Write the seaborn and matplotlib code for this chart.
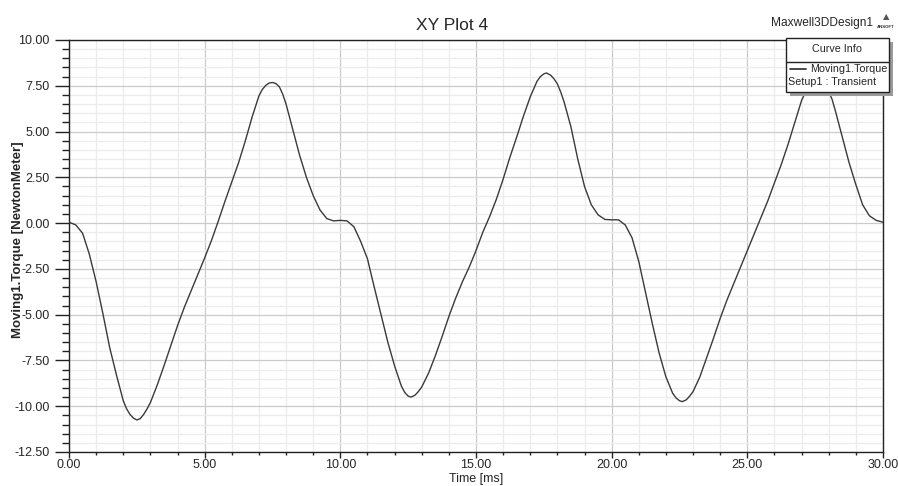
import matplotlib
matplotlib.use("Agg")
import matplotlib.pyplot as plt
from matplotlib import font_manager
from matplotlib.ticker import MultipleLocator, FormatStrFormatter
from matplotlib.patches import Rectangle
import seaborn as sns
import pandas as pd

time_ms = [0.0, 0.25, 0.5, 0.75, 1.0, 1.25, 1.5, 1.75, 2.0, 2.125, 2.25, 2.375, 2.5, 2.625, 2.75,
           2.875, 3.0, 3.25, 3.5, 3.75,
           4.0, 4.25, 4.5, 4.75, 5.0, 5.25, 5.5, 5.75, 6.0, 6.25, 6.5, 6.75, 7.0, 7.125, 7.25,
           7.375, 7.5, 7.625, 7.75, 7.875,
           8.0, 8.25, 8.5, 8.75, 9.0, 9.25, 9.5, 9.75, 10.0, 10.25, 10.5, 10.75, 11.0, 11.25, 11.5,
           11.75, 12.0, 12.25, 12.375, 12.5, 12.6, 12.75, 12.875, 13.0, 13.25, 13.5, 13.75, 14.0,
           14.25, 14.5, 14.75,
           15.0, 15.25, 15.5, 15.75, 16.0, 16.25, 16.5, 16.75, 17.0, 17.25, 17.375, 17.5, 17.6,
           17.75, 17.875, 18.0, 18.125,
           18.25, 18.5, 18.75, 19.0, 19.25, 19.5, 19.75, 20.0, 20.25, 20.5, 20.75, 21.0, 21.25, 21.5,
           21.75, 22.0, 22.25, 22.375, 22.5, 22.6, 22.75, 22.875, 23.0, 23.25, 23.5, 23.75, 24.0,
           24.25, 24.5, 24.75,
           25.0, 25.25, 25.5, 25.75, 26.0, 26.25, 26.5, 26.75, 27.0, 27.25, 27.375, 27.5, 27.625,
           27.75, 27.875, 28.0, 28.125, 28.25,
           28.5, 28.75, 29.0, 29.25, 29.5, 29.75, 30.0]
torque_nm = [0.05, -0.1, -0.55, -1.7, -3.2, -4.95, -6.8, -8.3, -9.7, -10.15, -10.45, -10.65, -10.75,
             -10.68, -10.45, -10.15, -9.8,
             -8.85, -7.8, -6.7, -5.6, -4.6, -3.7, -2.8, -1.9, -0.95, 0.1, 1.2, 2.25, 3.3, 4.5, 5.8,
             6.95, 7.3, 7.52, 7.65, 7.68, 7.62, 7.45, 7.05,
             6.5, 5.1, 3.7, 2.5, 1.5, 0.72, 0.25, 0.12, 0.15, 0.12, -0.2, -1.0,
             -1.95, -3.5, -5.0, -6.5, -7.8, -8.9, -9.25, -9.45, -9.5, -9.4, -9.2, -8.95, -8.2, -7.25,
             -6.2, -5.1,
             -4.1, -3.2, -2.4, -1.5, -0.5, 0.35, 1.3, 2.4, 3.6, 4.7, 5.85, 6.9, 7.75, 8.0, 8.15,
             8.2, 8.08, 7.88, 7.6, 7.15,
             6.6, 5.25, 3.5, 2.0, 1.0, 0.45, 0.2, 0.18, 0.18, -0.1, -0.8, -2.1, -3.8, -5.5, -7.1,
             -8.4, -9.3, -9.55, -9.7, -9.75, -9.65, -9.45, -9.2, -8.4, -7.35, -6.3, -5.2, -4.2, -3.3,
             -2.4, -1.5,
             -0.6, 0.3, 1.2, 2.2, 3.2, 4.3, 5.5, 6.7, 7.5, 7.75, 7.85, 7.82, 7.65, 7.45, 7.2, 6.75,
             6.1, 4.7, 3.3, 2.1, 1.0,
             0.4, 0.15, 0.05]

title = "XY Plot 4"
design = "Maxwell3DDesign1"
x_label = "Time [ms]"
y_label = "Moving1.Torque [NewtonMeter]"
series_name = "Moving1.Torque"
setup_name = "Setup1 : Transient"

df = pd.DataFrame({"time": time_ms, "torque": torque_nm})

sns.set_style("white")
installed = {f.name for f in font_manager.fontManager.ttflist}
if "Liberation Sans Narrow" in installed:
    FONT = ["Liberation Sans Narrow", "DejaVu Sans"]
    k = 1.0
else:
    FONT = ["Liberation Sans", "DejaVu Sans"]
    k = 0.86
plt.rcParams["font.family"] = FONT

W, H = 898, 486
fig = plt.figure(figsize=(W / 100, H / 100), dpi=100)
ax = fig.add_axes([69 / W, 1 - 452 / H, (883 - 69) / W, (452 - 40) / H])

sns.lineplot(data=df, x="time", y="torque", ax=ax, color="#3a3a3a", linewidth=1.0, zorder=3)

ax.set_xlim(0, 30)
ax.set_ylim(-12.5, 10)
ax.xaxis.set_major_locator(MultipleLocator(5))
ax.xaxis.set_minor_locator(MultipleLocator(1))
ax.yaxis.set_major_locator(MultipleLocator(2.5))
ax.yaxis.set_minor_locator(MultipleLocator(0.5))
ax.xaxis.set_major_formatter(FormatStrFormatter("%.2f"))
ax.yaxis.set_major_formatter(FormatStrFormatter("%.2f"))

ax.set_axisbelow(True)
ax.grid(which="major", color="#cbcbcb", linewidth=0.9)
ax.grid(which="minor", color="#ececec", linewidth=0.9)

for s in ax.spines.values():
    s.set_visible(True)
    s.set_color("#222222")
    s.set_linewidth(1.0)

tick_fs = 10.5 * k
ax.tick_params(axis="y", which="major", length=10, width=1, direction="out", pad=4,
               labelsize=tick_fs, color="#222222", left=True)
ax.tick_params(axis="y", which="minor", length=5, width=1, direction="out", color="#222222", left=True)
ax.tick_params(axis="x", which="major", length=4.5, width=1, direction="out", pad=0.5,
               labelsize=tick_fs, color="#222222", bottom=True)
ax.tick_params(axis="x", which="minor", length=2.5, width=1, direction="out", color="#222222", bottom=True)

ax.set_xlabel(x_label, fontsize=tick_fs, va="center")
ax.xaxis.set_label_coords(0.5, -(479 - 452) / 412)
ax.set_ylabel(y_label, fontsize=10.5 * k + 0.5, fontweight="bold", va="center")
ax.yaxis.set_label_coords(-(69 - 18) / 814, (452 - 240) / 412)

fig.text(452 / W, 1 - 25 / H, title, fontsize=14.5 * k, ha="center", va="center")
fig.text(822 / W, 1 - 23 / H, design, fontsize=10 * k, ha="center", va="center")
# ANSOFT mark
fig.text(886 / W, 1 - 17 / H, "\u25B2", fontsize=6, ha="center", va="center", color="#555555",
         family=["DejaVu Sans"])
fig.text(886 / W, 1 - 27 / H, "ANSOFT", fontsize=3.2, fontweight="bold", ha="center", va="center",
         color="#333333")

# Curve info box
lx0, ly0, lx1, ly1 = 786, 38, 889, 92
shadow = Rectangle(((lx0 + 4) / W, 1 - (ly1 + 4) / H), (lx1 - lx0) / W, (ly1 - ly0) / H,
                   transform=fig.transFigure, facecolor="#9a9a9a", edgecolor="none", zorder=5)
box = Rectangle((lx0 / W, 1 - ly1 / H), (lx1 - lx0) / W, (ly1 - ly0) / H,
                transform=fig.transFigure, facecolor="white", edgecolor="#222222", linewidth=1.0,
                zorder=6)
fig.patches.extend([shadow, box])
fig.add_artist(plt.Line2D([lx0 / W, lx1 / W], [1 - 62 / H, 1 - 62 / H], transform=fig.transFigure,
                          color="#222222", linewidth=1.0, zorder=7))
leg_fs = 9 * k
fig.text((lx0 + lx1) / 2 / W, 1 - 49 / H, "Curve Info", fontsize=leg_fs, ha="center", va="center", zorder=8)
fig.add_artist(plt.Line2D([790 / W, 806 / W], [1 - 69 / H, 1 - 69 / H], transform=fig.transFigure,
                          color="#3a3a3a", linewidth=1.3, zorder=7))
fig.text(887 / W, 1 - 69 / H, series_name, fontsize=leg_fs, ha="right", va="center", zorder=8)
fig.text(788 / W, 1 - 82 / H, setup_name, fontsize=leg_fs, ha="left", va="center", zorder=8)

fig.savefig("out.png", dpi=100)
